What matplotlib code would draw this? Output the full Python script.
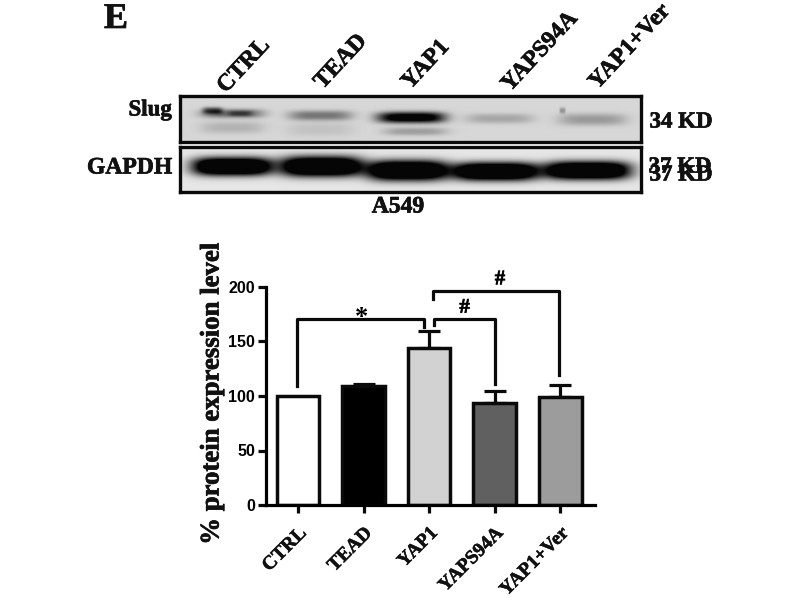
#!/usr/bin/python3

from matplotlib import pyplot as plt
from matplotlib import patheffects as pe
import numpy as np

groups = ['CTRL', 'TEAD', 'YAP1', 'YAPS94A', 'YAP1+Ver']
values = [100, 109, 144, 94, 99]
errors = [0, 2, 16, 11, 11]
colors = ['white', 'black', '#d2d2d2', '#606060', '#9c9c9c']
yticks = [0, 50, 100, 150, 200]

# bands read from the blot: pixel x centre, y centre, half width, half height, darkness
slug_bands = [
    (232, 113, 32, 4.5, 0.42), (212, 110, 10, 3.5, 0.45), (240, 113, 12, 3, 0.22),
    (232, 127, 32, 6, 0.14),
    (320, 115, 32, 5, 0.38), (320, 129, 34, 7, 0.08),
    (411, 117, 34, 5.5, 1.0), (415, 131, 32, 4, 0.22),
    (499, 118, 34, 5, 0.19),
    (592, 119, 34, 6, 0.24), (562, 110, 3, 3, 0.25),
]
gapdh_bands = [
    (232, 166, 40, 9, 1.5),
    (321, 166, 41, 10, 1.5),
    (407, 170, 40, 10, 1.5),
    (495, 171, 43, 9, 1.5),
    (587, 170, 43, 9, 1.5),
]

W, H = 800, 600
fig = plt.figure(figsize=(8, 6), dpi=100)
serif = 'Liberation Serif'
heavy = [pe.withStroke(linewidth=0.5, foreground='#111111')]


def px_axes(x0, y0, x1, y1):
    return fig.add_axes([x0 / W, 1 - y1 / H, (x1 - x0) / W, (y1 - y0) / H])


def px_text(x, y, s, size, **kw):
    fig.text(x / W, 1 - y / H, s, fontsize=size, family=serif, weight='bold',
             ha=kw.pop('ha', 'center'), va=kw.pop('va', 'center'), color='#111111',
             path_effects=heavy, **kw)


def blot(box, bands, base):
    x0, y0, x1, y1 = box
    ax = px_axes(x0, y0, x1, y1)
    xx, yy = np.meshgrid(np.arange(x0, x1), np.arange(y0, y1))
    img = np.full(xx.shape, base, dtype=float)
    for cx, cy, w, h, d in bands:
        img -= d * np.exp(-np.abs((xx - cx) / w) ** 4 - np.abs((yy - cy) / h) ** 2.5)
    img = np.clip(img, 0.02, 1)
    ax.imshow(img, cmap='gray', vmin=0, vmax=1, aspect='auto')
    ax.set_xticks([])
    ax.set_yticks([])
    for s in ax.spines.values():
        s.set_linewidth(2.4)
        s.set_color('#0a0a0a')


blot((180, 96, 641, 142), slug_bands, 0.84)
blot((180, 147, 641, 192), gapdh_bands, 0.9)

# blot labels
px_text(116, 28, 'E', 26, va='baseline')
label_pos = [(244, 66), (341, 62), (426, 65), (540, 52), (630, 47)]
for (x, y), g in zip(label_pos, groups):
    px_text(x, y, g, 17, rotation=47)
px_text(172, 110, 'Slug', 16.5, ha='right')
px_text(172, 168, 'GAPDH', 17, ha='right')
px_text(681, 122, '34 KD', 16.5)
px_text(680, 167, '37 KD', 16.5)
px_text(681, 175, '37 KD', 16.5)
px_text(398, 207, 'A549', 17)

# bar chart
ax = px_axes(266, 287, 595, 505)
x = np.arange(len(groups))
ax.bar(x, values, width=0.65, color=colors, edgecolor='#0a0a0a', linewidth=2.5, zorder=2)
ax.errorbar(x[1:], values[1:], yerr=[[0] * 4, errors[1:]], fmt='none', ecolor='#0a0a0a',
            elinewidth=2.3, capsize=8, capthick=2.3, zorder=1)
ax.set_xlim(-0.49, 4.53)
ax.set_ylim(0, 200)
ax.set_yticks(yticks)
ax.set_xticks(x)
ax.set_xticklabels(groups, rotation=45, ha='right', rotation_mode='anchor',
                   family=serif, weight='bold', fontsize=14, color='#111111',
                   path_effects=[pe.withStroke(linewidth=0.4, foreground='#111111')])
for t in ax.get_yticklabels():
    t.set_family('Liberation Sans')
    t.set_weight('bold')
    t.set_fontsize(11.5)
ax.tick_params(width=2.3, length=6, color='#0a0a0a')
ax.tick_params(axis='x', pad=8)
ax.tick_params(axis='y', pad=2)
ax.spines['top'].set_visible(False)
ax.spines['right'].set_visible(False)
ax.spines['left'].set_linewidth(2.3)
ax.spines['bottom'].set_linewidth(2.3)
px_text(212, 394, '% protein expression level', 19.3, rotation=90)

# significance brackets
ax.plot([-0.02, -0.02, 1.92, 1.92], [109, 171, 171, 163], color='#0a0a0a', lw=2.3, clip_on=False)
ax.plot([2.08, 2.08, 3.0, 3.0], [165, 171, 171, 111], color='#0a0a0a', lw=2.3, clip_on=False)
ax.plot([2.06, 2.06, 3.98, 3.98], [189, 196, 196, 119], color='#0a0a0a', lw=2.3, clip_on=False)
ax.text(0.97, 172, '*', fontsize=19, family=serif, weight='bold', ha='center', va='center')
ax.text(2.54, 181, '#', fontsize=15, family=serif, weight='bold', ha='center', va='center', path_effects=heavy)
ax.text(3.08, 207, '#', fontsize=15, family=serif, weight='bold', ha='center', va='center', clip_on=False, path_effects=heavy)

plt.savefig('out.png', dpi=100)
